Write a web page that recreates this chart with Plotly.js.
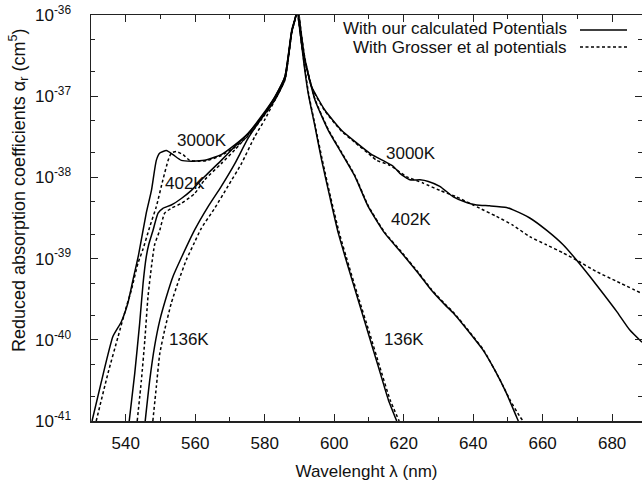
<!DOCTYPE html>
<html>
<head>
<meta charset="utf-8">
<script src="https://cdn.plot.ly/plotly-3.0.1.min.js"></script>
<style>html,body{margin:0;padding:0;background:#fff;}#chart{width:642px;height:481px;}</style>
</head>
<body>
<div id="chart"></div>
<script>
// Wavelength (nm) and log10 of reduced absorption coefficient (cm^5)
const lam3000Calc = [530.3,532.9,536.3,538.7,540.6,542.1,543.7,545.9,547.4,548.8,549.8,551.7,553.6,556.0,558.9,562.7,567.5,571.4,575.2,579.0,582.9,585.8,587.8,589.0,589.3,589.6,591.1,593.5,597.3,602.1,606.0,610.8,614.0,616.9,618.9,621.8,624.7,627.1,630.4,634.3,638.1,641.0,644.8,649.6,651.5,656.3,661.1,665.9,669.8,673.6,677.4,681.3,685.1,688.6];
const log3000Calc = [-41.0,-40.53,-39.96,-39.78,-39.55,-39.26,-38.95,-38.44,-38.16,-37.79,-37.70,-37.67,-37.72,-37.79,-37.80,-37.79,-37.72,-37.60,-37.46,-37.25,-37.01,-36.76,-36.18,-36.0,-35.3,-36.0,-36.47,-36.88,-37.17,-37.42,-37.56,-37.72,-37.79,-37.86,-37.95,-38.03,-38.03,-38.05,-38.11,-38.24,-38.31,-38.34,-38.35,-38.37,-38.40,-38.50,-38.65,-38.83,-39.02,-39.22,-39.43,-39.65,-39.88,-40.03];

const lam3000Gros = [531.5,534.9,537.8,540.2,541.6,543.5,545.0,546.9,548.8,550.7,552.2,553.1,554.5,556.5,558.4,560.8,563.7,567.5,571.4,575.2,579.0,582.9,585.8,587.8,589.0,589.3,589.6,591.1,593.5,597.3,602.1,606.0,610.8,612.2,616.0,620.8,625.6,630.4,635.2,640.0,641.9,646.7,651.5,656.3,661.1,665.9,669.8,675.5,681.3,688.6];
const log3000Gros = [-41.0,-40.41,-39.96,-39.59,-39.39,-39.06,-38.88,-38.61,-38.36,-38.03,-37.79,-37.70,-37.68,-37.72,-37.79,-37.80,-37.79,-37.73,-37.63,-37.49,-37.29,-37.05,-36.80,-36.21,-36.0,-35.3,-36.0,-36.48,-36.89,-37.18,-37.43,-37.57,-37.74,-37.79,-37.85,-37.99,-38.07,-38.16,-38.24,-38.34,-38.38,-38.48,-38.59,-38.73,-38.83,-38.93,-39.02,-39.16,-39.28,-39.43];

const lam402Calc = [541.0,542.6,544.0,545.0,545.9,546.6,547.8,549.3,550.7,553.1,556.0,558.9,562.7,567.5,571.4,575.2,579.0,582.9,585.8,587.8,589.0,589.3,589.9,591.6,594.5,598.3,602.1,606.0,609.8,614.6,619.4,624.2,628.0,631.9,634.3,639.1,642.9,646.7,649.6,652.5,653.0];
const log402Calc = [-41.0,-40.41,-39.80,-39.30,-38.98,-38.83,-38.66,-38.44,-38.38,-38.34,-38.26,-38.16,-37.99,-37.79,-37.62,-37.46,-37.27,-37.04,-36.79,-36.20,-36.0,-35.3,-36.0,-36.55,-37.05,-37.42,-37.70,-37.99,-38.36,-38.69,-38.93,-39.18,-39.39,-39.57,-39.67,-39.92,-40.13,-40.41,-40.66,-40.95,-41.0];

const lam402Gros = [543.3,544.5,545.5,546.4,547.4,548.3,549.8,551.2,553.1,556.0,559.8,562.7,567.5,571.4,575.2,579.0,582.9,585.8,587.8,589.0,589.3,589.9,591.6,594.5,598.3,602.1,606.0,609.8,614.6,619.4,624.2,628.0,631.9,634.3,639.1,642.9,647.7,650.6,653.5,654.4];
const log402Gros = [-41.0,-40.50,-40.00,-39.47,-39.10,-38.83,-38.65,-38.44,-38.38,-38.32,-38.20,-38.03,-37.83,-37.66,-37.48,-37.28,-37.05,-36.80,-36.21,-36.0,-35.3,-36.0,-36.54,-37.04,-37.41,-37.69,-37.98,-38.35,-38.68,-38.92,-39.17,-39.38,-39.56,-39.66,-39.91,-40.12,-40.49,-40.74,-40.95,-41.0];

const lam136Calc = [545.6,546.9,548.3,549.8,551.7,553.6,556.0,559.8,563.7,567.5,571.4,575.2,580.0,582.9,585.8,587.8,589.0,589.3,589.8,590.6,592.5,594.5,596.4,598.8,601.2,604.0,606.9,609.8,612.7,615.6,618.0];
const log136Calc = [-41.0,-40.50,-40.08,-39.76,-39.47,-39.22,-38.99,-38.65,-38.36,-38.11,-37.83,-37.52,-37.21,-37.01,-36.76,-36.20,-36.0,-35.3,-36.0,-36.35,-36.96,-37.38,-37.79,-38.25,-38.69,-39.10,-39.51,-39.92,-40.33,-40.74,-41.0];

const lam136Gros = [547.8,548.8,549.8,551.2,553.1,555.0,557.4,559.8,561.7,565.6,569.4,573.3,577.1,580.0,582.9,585.8,587.8,589.0,589.3,589.8,590.6,592.6,594.6,596.6,599.0,601.5,604.3,607.2,610.2,613.1,616.1,618.7];
const log136Gros = [-41.0,-40.58,-40.17,-39.88,-39.55,-39.30,-39.02,-38.80,-38.63,-38.38,-38.11,-37.83,-37.50,-37.29,-37.05,-36.79,-36.21,-36.0,-35.3,-36.0,-36.35,-36.96,-37.38,-37.79,-38.25,-38.69,-39.10,-39.51,-39.92,-40.33,-40.74,-41.0];

const yTickExp = [-41,-40,-39,-38,-37,-36];
const yTickText = yTickExp.map(e => '10<sup>' + e + '</sup>');
const xTickVals = [540,560,580,600,620,640,660,680];

const legendCalc = 'With our calculated Potentials';
const legendGros = 'With Grosser et al potentials';
const tempLabels = [
  {t:'3000K', x:562.0, y:-37.54}, {t:'402K', x:557.1, y:-38.07}, {t:'136K', x:558.1, y:-40.0},
  {t:'3000K', x:622.1, y:-37.70}, {t:'402K', x:622.0, y:-38.52}, {t:'136K', x:620.2, y:-40.0}
];

const FONT = 'Liberation Sans, Arial, sans-serif';
const toVal = a => a.map(v => Math.pow(10, v));
function tr(x, l, dashed, name) {
  return {x: x, y: toVal(l), type: 'scatter', mode: 'lines', name: name, showlegend: false,
    line: {color: '#000', width: 1.5, dash: dashed ? '3px,2.5px' : 'solid', shape: 'spline', smoothing: 0.5},
    hoverinfo: 'skip'};
}
const data = [
  tr(lam3000Calc, log3000Calc, false, 'calc 3000K'),
  tr(lam3000Gros, log3000Gros, true, 'Grosser 3000K'),
  tr(lam402Calc, log402Calc, false, 'calc 402K'),
  tr(lam402Gros, log402Gros, true, 'Grosser 402K'),
  tr(lam136Calc, log136Calc, false, 'calc 136K'),
  tr(lam136Gros, log136Gros, true, 'Grosser 136K')
];

const L = 91, R = 642, T = 15, B = 421;
const px = x => (x - L) / (R - L);
const py = y => (B - y) / (B - T);

const annotations = tempLabels.map(a => ({x: a.x, y: a.y, xref: 'x', yref: 'y', text: a.t, showarrow: false,
  font: {family: FONT, size: 17, color: '#111'}, xanchor: 'center', yanchor: 'middle'}));
annotations.push({xref: 'paper', yref: 'paper', x: px(569), y: py(29), text: legendCalc, showarrow: false,
  xanchor: 'right', yanchor: 'middle', font: {family: FONT, size: 17, color: '#111'}});
annotations.push({xref: 'paper', yref: 'paper', x: px(569), y: py(48), text: legendGros, showarrow: false,
  xanchor: 'right', yanchor: 'middle', font: {family: FONT, size: 17, color: '#111'}});
annotations.push({xref: 'paper', yref: 'paper', x: px(18), y: py(191), text: 'Reduced absorption coefficients \u03b1<sub>r</sub> (cm<sup>5</sup>)',
  textangle: -90, showarrow: false, xanchor: 'center', yanchor: 'middle', font: {family: FONT, size: 18, color: '#111'}});

const shapes = [
  {type: 'line', xref: 'paper', yref: 'paper', x0: px(580), x1: px(627), y0: py(30), y1: py(30), line: {color: '#000', width: 1.5}},
  {type: 'line', xref: 'paper', yref: 'paper', x0: px(580), x1: px(627), y0: py(47), y1: py(47), line: {color: '#000', width: 1.5, dash: '3px,2.5px'}}
];

const layout = {
  width: 642, height: 481,
  margin: {l: L, r: 642 - R, t: T, b: 481 - B},
  paper_bgcolor: '#fff', plot_bgcolor: '#fff',
  showlegend: false,
  font: {family: FONT, size: 17, color: '#111'},
  xaxis: {
    range: [530, 688.6], tickmode: 'array', tickvals: xTickVals, ticks: 'inside', ticklen: 7, tickwidth: 1,
    tickcolor: '#222', showline: true, linecolor: '#222', linewidth: 1.5, mirror: 'ticks', showgrid: false, zeroline: false,
    ticklabelstandoff: 6,
    minor: {dtick: 10, tick0: 530, ticks: 'inside', ticklen: 4, tickcolor: '#222', showgrid: false},
    title: {text: 'Wavelenght \u03bb (nm)', font: {family: FONT, size: 17, color: '#111'}, standoff: 17}
  },
  yaxis: {
    type: 'log', range: [-41, -36], tickmode: 'array', tickvals: yTickExp.map(e => Math.pow(10, e)), ticktext: yTickText,
    ticks: 'inside', ticklen: 7, tickwidth: 1, tickcolor: '#222', showline: true, linecolor: '#222', linewidth: 1.5,
    mirror: 'ticks', showgrid: false, zeroline: false, ticklabelstandoff: 15,
    minor: {dtick: 'D2', ticks: 'inside', ticklen: 4, tickcolor: '#222', showgrid: false}
  },
  annotations: annotations,
  shapes: shapes
};

Plotly.newPlot('chart', data, layout, {staticPlot: true, displayModeBar: false});
</script>
</body>
</html>
